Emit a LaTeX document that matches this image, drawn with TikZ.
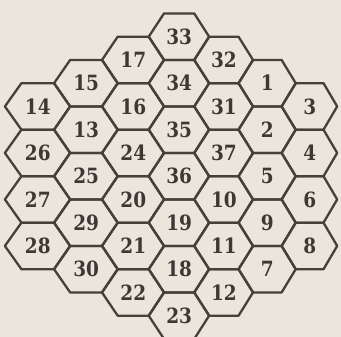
\documentclass[tikz,border=0pt]{standalone}
\usepackage{fontspec}
\newfontfamily\numfont{DejaVu Serif}[FakeStretch=0.88]
\definecolor{paper}{HTML}{EBE6DC}
\definecolor{linecol}{HTML}{46403A}
\definecolor{numcol}{HTML}{3D3834}
\begin{document}
\begin{tikzpicture}[x=1pt,y=-1pt,
  declare function={px(\u)=37.8+48.95*(\u)-0.606*(\u)*(\u); py(\v)=36.7+46.5*(\v);},
  hexline/.style={draw=linecol, line width=2.3pt, line join=round},
  num/.style={text=numcol, font=\numfont\fontsize{21}{24}\selectfont\bfseries, inner sep=0pt}]
\useasboundingbox (0,0) rectangle (341,337);
\fill[paper] (0,0) rectangle (341,337);
\clip (0,0) rectangle (341,337);
\foreach \c/\list in {0/{14,26,27,28},1/{15,13,25,29,30},2/{17,16,24,20,21,22},3/{33,34,35,36,19,18,23},4/{32,31,37,10,11,12},5/{1,2,5,9,7},6/{3,4,6,8}}{
  \foreach \n [count=\k from 0] in \list {
    \pgfmathsetmacro\v{\k+abs(\c-3)/2}
    \pgfmathsetmacro\xl{px(\c-2/3)}
    \pgfmathsetmacro\xtl{px(\c-1/3)}
    \pgfmathsetmacro\xtr{px(\c+1/3)}
    \pgfmathsetmacro\xr{px(\c+2/3)}
    \pgfmathsetmacro\xc{px(\c)}
    \pgfmathsetmacro\yc{py(\v)}
    \pgfmathsetmacro\yt{py(\v-0.5)}
    \pgfmathsetmacro\yb{py(\v+0.5)}
    \draw[hexline] (\xl,\yc) -- (\xtl,\yt) -- (\xtr,\yt) -- (\xr,\yc) -- (\xtr,\yb) -- (\xtl,\yb) -- cycle;
    \node[num] (h\n) at (\xc,\yc) {\n};
  }
}
\end{tikzpicture}
\end{document}
